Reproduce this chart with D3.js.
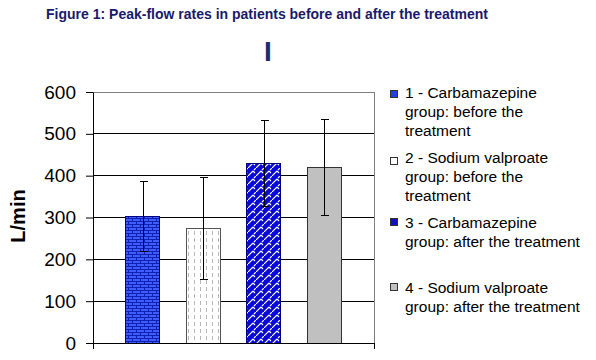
<!DOCTYPE html>
<html><head><meta charset="utf-8">
<script src="https://cdn.jsdelivr.net/npm/d3@7"></script>
<style>body{margin:0;background:#fff}</style>
</head><body><svg id="c" width="596" height="360"></svg>
<script>
const groups = ["1", "2", "3", "4"];
const legendLabels = [
  ["1 - Carbamazepine", "group: before the", "treatment"],
  ["2 - Sodium valproate", "group: before the", "treatment"],
  ["3 - Carbamazepine", "group: after the treatment"],
  ["4 - Sodium valproate", "group: after the treatment"]
];
const means = [303, 274, 430, 420];
const errors = [84, 122, 103, 115];
const yTicks = [0, 100, 200, 300, 400, 500, 600];
const titleText = "Figure 1: Peak-flow rates in patients before and after the treatment";
const subTitle = "I";
const yLabel = "L/min";

const svg = d3.select("#c");
svg.append("rect").attr("width", 596).attr("height", 360).attr("fill", "#fff");
const font = "'Liberation Sans', Arial, sans-serif";

// patterns
const defs = svg.append("defs");
const p1 = defs.append("pattern").attr("id", "p1").attr("patternUnits", "userSpaceOnUse").attr("width", 8).attr("height", 6);
p1.append("rect").attr("width", 8).attr("height", 6).attr("fill", "#3f5cff");
p1.append("rect").attr("x", 0).attr("y", 2).attr("width", 8).attr("height", 1).attr("fill", "#1020b0");
p1.append("rect").attr("x", 0).attr("y", 5).attr("width", 8).attr("height", 1).attr("fill", "#1020b0");
p1.append("rect").attr("x", 0).attr("y", 0).attr("width", 1).attr("height", 2).attr("fill", "#1020b0");
p1.append("rect").attr("x", 4).attr("y", 3).attr("width", 1).attr("height", 2).attr("fill", "#1020b0");

const p2 = defs.append("pattern").attr("id", "p2").attr("patternUnits", "userSpaceOnUse").attr("width", 6).attr("height", 7);
p2.append("rect").attr("width", 6).attr("height", 7).attr("fill", "#fff");
p2.append("rect").attr("x", 2).attr("y", 0).attr("width", 1).attr("height", 4).attr("fill", "#b8b8b8");

const p3 = defs.append("pattern").attr("id", "p3").attr("patternUnits", "userSpaceOnUse").attr("width", 8).attr("height", 8);
p3.append("rect").attr("width", 8).attr("height", 8).attr("fill", "#0a0ad0");
p3.append("path").attr("d", "M0,8 L5,3 M6,2 L8,0 M5,3 L7,5").attr("stroke", "#fff").attr("stroke-width", 1.1).attr("fill", "none");

const fills = ["url(#p1)", "url(#p2)", "url(#p3)", "#c0c0c0"];
const strokes = ["#000080", "#555", "#000080", "#333"];
const legendFills = ["#2040e0", "#fff", "#1010c0", "#c0c0c0"];

const L = 93, R = 374, T = 92, B = 343;
const x = d3.scaleBand().domain(groups).range([L, R]).paddingInner(0.436).paddingOuter(0.54);
const y = d3.scaleLinear().domain([0, 600]).range([B, T]);

// gridlines
svg.append("g").selectAll("line").data(yTicks.filter(d => d > 0 && d < 600)).join("line")
  .attr("x1", L).attr("x2", R).attr("y1", d => y(d)).attr("y2", d => y(d))
  .attr("stroke", "#000").attr("shape-rendering", "crispEdges");
// plot border top/right
svg.append("path").attr("d", `M${L},${y(600)}H${R}V${B}`).attr("fill", "none")
  .attr("stroke", "#808080").attr("shape-rendering", "crispEdges");

// bars
svg.append("g").selectAll("rect").data(groups).join("rect")
  .attr("x", d => x(d)).attr("width", x.bandwidth())
  .attr("y", (d, i) => y(means[i])).attr("height", (d, i) => B - y(means[i]))
  .attr("fill", (d, i) => fills[i]).attr("stroke", (d, i) => strokes[i]).attr("stroke-width", 1)
  .attr("shape-rendering", "crispEdges");

// error bars
const eb = svg.append("g").attr("stroke", "#000").attr("shape-rendering", "crispEdges");
groups.forEach((g, i) => {
  const cx = Math.round(x(g) + x.bandwidth() / 2) + 0.5;
  const y1 = y(means[i] + errors[i]), y0 = y(means[i] - errors[i]);
  eb.append("line").attr("x1", cx).attr("x2", cx).attr("y1", y1).attr("y2", y0);
  eb.append("line").attr("x1", cx - 4).attr("x2", cx + 4).attr("y1", y1).attr("y2", y1);
  eb.append("line").attr("x1", cx - 4).attr("x2", cx + 4).attr("y1", y0).attr("y2", y0);
});

// y axis
const ya = svg.append("g").attr("transform", `translate(${L},0)`)
  .call(d3.axisLeft(y).tickValues(yTicks).tickSize(7).tickPadding(10).tickSizeOuter(0));
ya.select(".domain").attr("stroke", "#000");
ya.selectAll(".tick line").attr("stroke", "#000");
ya.selectAll("text").attr("font-family", font).attr("font-size", 19).attr("fill", "#000");

// x axis line
svg.append("line").attr("x1", L).attr("x2", R).attr("y1", B).attr("y2", B).attr("stroke", "#000").attr("shape-rendering", "crispEdges");
[L, R].forEach(v => svg.append("line").attr("x1", v).attr("x2", v).attr("y1", B).attr("y2", B + 6)
  .attr("stroke", "#000").attr("shape-rendering", "crispEdges"));

// titles
svg.append("text").attr("x", 267).attr("y", 19).attr("text-anchor", "middle")
  .attr("font-family", font).attr("font-weight", "bold").attr("font-size", 14).attr("fill", "#1a1a6a").text(titleText);
svg.append("text").attr("x", 268).attr("y", 61).attr("text-anchor", "middle")
  .attr("font-family", font).attr("font-weight", "bold").attr("font-size", 28).attr("fill", "#1c2c6c").text(subTitle);
svg.append("text").attr("transform", "translate(25,216) rotate(-90)").attr("text-anchor", "middle")
  .attr("font-family", font).attr("font-weight", "bold").attr("font-size", 20).attr("fill", "#000").text(yLabel);

// legend
const markerTops = [90, 157, 218, 283];
const baselines = [98, 163, 228, 293];
const lg = svg.append("g");
groups.forEach((g, i) => {
  lg.append("rect").attr("x", 390.5).attr("y", markerTops[i] + 0.5).attr("width", 7).attr("height", 7)
    .attr("fill", legendFills[i]).attr("stroke", "#333").attr("shape-rendering", "crispEdges");
  const t = lg.append("text").attr("font-family", font).attr("font-size", 15.5).attr("fill", "#000");
  legendLabels[i].forEach((ln, j) => {
    t.append("tspan").attr("x", 405).attr("y", baselines[i] + j * 19).text(ln);
  });
});
</script>
</body></html>
